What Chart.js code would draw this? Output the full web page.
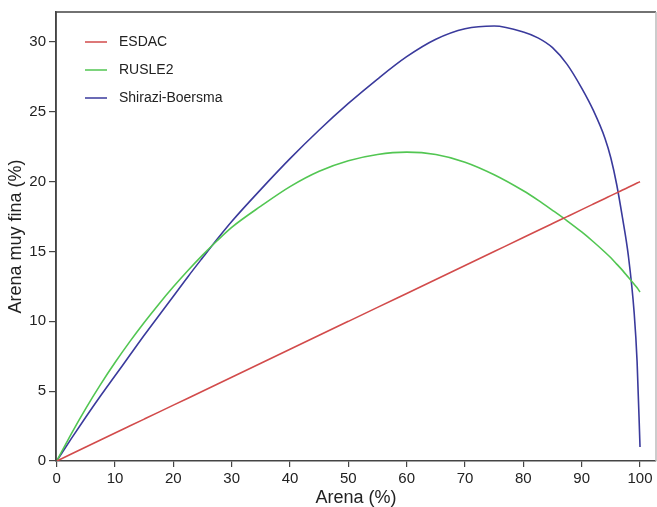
<!DOCTYPE html>
<html>
<head>
<meta charset="utf-8">
<script src="https://cdn.jsdelivr.net/npm/chart.js@4"></script>
<style>
  html, body { margin: 0; padding: 0; background: #fff; }
  #wrap { width: 657px; height: 507px; position: relative; }
</style>
</head>
<body>
<div id="wrap"><canvas id="chart"></canvas></div>
<script>
// values
const sandX   = [0, 2.5, 5, 7.5, 10, 12.5, 15, 17.5, 20, 22.5, 25, 27.5, 30, 35, 40, 45, 50, 55, 60, 65, 70, 75, 80, 82.5, 85, 87.5, 90, 92, 94, 95, 96, 97, 98, 99, 99.5, 100];
const esdac   = [0, 0.5, 1, 1.5, 2, 2.5, 3, 3.5, 4, 4.5, 5, 5.5, 6, 7, 8, 9, 10, 11, 12, 13, 14, 15, 16, 16.5, 17, 17.5, 18, 18.4, 18.8, 19, 19.2, 19.4, 19.6, 19.8, 19.9, 20];
const rusle2  = [0, 1.95, 3.77, 5.47, 7.05, 8.53, 9.92, 11.23, 12.47, 13.64, 14.74, 15.77, 16.73, 18.25, 19.65, 20.75, 21.5, 21.95, 22.12, 21.95, 21.4, 20.5, 19.35, 18.68, 17.95, 17.2, 16.4, 15.7, 14.95, 14.55, 14.1, 13.65, 13.15, 12.65, 12.4, 12.1];
const shirazi = [0, 1.6, 3.15, 4.65, 6.1, 7.55, 9.0, 10.4, 11.8, 13.2, 14.55, 15.88, 17.15, 19.45, 21.65, 23.7, 25.6, 27.35, 28.95, 30.2, 30.95, 31.15, 30.72, 30.3, 29.6, 28.4, 26.7, 25.1, 23.1, 21.7, 19.8, 17.4, 14.7, 10.6, 7.1, 1.0];
const seriesNames = ['ESDAC', 'RUSLE2', 'Shirazi-Boersma'];
const xTicks = [0, 10, 20, 30, 40, 50, 60, 70, 80, 90, 100];
const yTicks = [0, 5, 10, 15, 20, 25, 30];

const colors = ['#d24b4b', '#52c652', '#3a3a9c'];
const axisColor = '#444444';

function pts(arr) {
  return sandX.map((x, i) => ({ x: x, y: arr[i] }));
}

// legend + box drawn inside the plot, like the R original
const boxAndLegend = {
  id: 'boxAndLegend',
  afterDatasetsDraw(chart) {
    const ctx = chart.ctx;
    const a = chart.chartArea;
    ctx.save();
    ctx.strokeStyle = axisColor;
    ctx.lineWidth = 1.5;
    ctx.beginPath();
    ctx.moveTo(a.left, a.bottom);
    ctx.lineTo(a.left, a.top);
    ctx.lineTo(a.right, a.top);
    ctx.stroke();
    ctx.strokeStyle = '#bbbbbb';
    ctx.beginPath();
    ctx.moveTo(a.right, a.top);
    ctx.lineTo(a.right, a.bottom);
    ctx.stroke();

    ctx.font = '14px "Liberation Sans", Arial, sans-serif';
    ctx.textBaseline = 'middle';
    ctx.fillStyle = '#222';
    chart.data.datasets.forEach((ds, i) => {
      const y = 42 + i * 28;
      ctx.strokeStyle = ds.borderColor;
      ctx.lineWidth = 1.5;
      ctx.beginPath();
      ctx.moveTo(85, y);
      ctx.lineTo(107, y);
      ctx.stroke();
      ctx.fillText(ds.label, 119, y);
    });
    ctx.restore();
  }
};

const ctx = document.getElementById('chart').getContext('2d');
new Chart(ctx, {
  type: 'line',
  data: {
    datasets: [esdac, rusle2, shirazi].map((arr, i) => ({
      label: seriesNames[i],
      data: pts(arr),
      borderColor: colors[i],
      borderWidth: 1.6,
      pointRadius: 0,
      fill: false,
      cubicInterpolationMode: 'monotone'
    }))
  },
  options: {
    responsive: true,
    maintainAspectRatio: false,
    animation: false,
    layout: { padding: { top: 9, right: 1, left: 0, bottom: 0 } },
    plugins: {
      legend: { display: false },
      tooltip: { enabled: false }
    },
    scales: {
      x: {
        type: 'linear',
        min: -0.12,
        max: 102.74,
        afterBuildTicks: (s) => { s.ticks = xTicks.map(v => ({ value: v })); },
        afterFit: (s) => { s.height = 46; },
        grid: { drawOnChartArea: false, drawTicks: true, tickLength: 6, color: axisColor, lineWidth: 1.2 },
        border: { display: true, color: axisColor, width: 1.5 },
        ticks: {
          color: '#222',
          padding: 3,
          maxRotation: 0,
          font: { family: '"Liberation Sans", Arial, sans-serif', size: 15 }
        },
        title: {
          display: true,
          text: 'Arena (%)',
          color: '#222',
          padding: { top: 0, bottom: 0 },
          font: { family: '"Liberation Sans", Arial, sans-serif', size: 18, lineHeight: 1 }
        }
      },
      y: {
        min: 0,
        max: 32.15,
        afterBuildTicks: (s) => { s.ticks = yTicks.map(v => ({ value: v })); },
        afterFit: (s) => { s.width = 56; },
        grid: { drawOnChartArea: false, drawTicks: true, tickLength: 7, color: axisColor, lineWidth: 1.2 },
        border: { display: true, color: axisColor, width: 1.5 },
        ticks: {
          color: '#222',
          padding: 3,
          font: { family: '"Liberation Sans", Arial, sans-serif', size: 15 }
        },
        title: {
          display: true,
          text: 'Arena muy fina (%)',
          color: '#222',
          padding: { top: 7, bottom: 0 },
          font: { family: '"Liberation Sans", Arial, sans-serif', size: 18, lineHeight: 1 }
        }
      }
    }
  },
  plugins: [boxAndLegend]
});
</script>
</body>
</html>
